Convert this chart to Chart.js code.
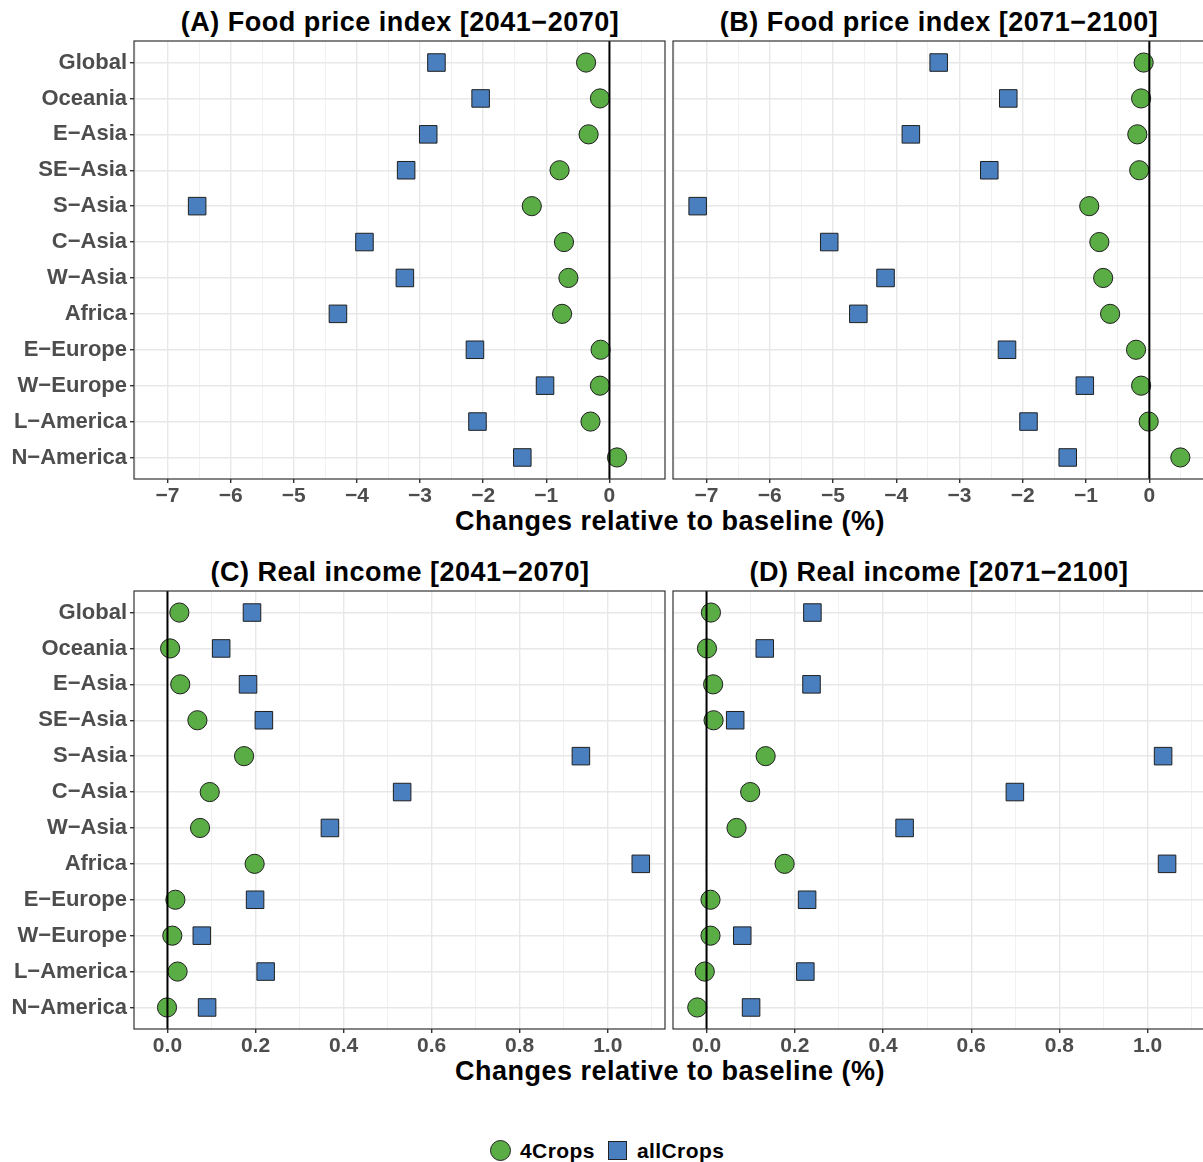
<!DOCTYPE html>
<html>
<head>
<meta charset="utf-8">
<title>Food price index and real income</title>
<script src="https://cdn.jsdelivr.net/npm/chart.js@4.4.1/dist/chart.umd.min.js"></script>
<style>
  body { margin: 0; background: #fff; overflow: hidden; font-family: "Liberation Sans", Arial, sans-serif; }
  #fig { position: relative; width: 1203px; height: 1162px; overflow: hidden; }
  canvas { position: absolute; }
  .ttl { position: absolute; font-weight: bold; font-size: 27px; line-height: 27px; color: #000;
         white-space: nowrap; letter-spacing: 0.5px; transform: translateX(-50%); }
  .leg { position: absolute; font-weight: bold; font-size: 21px; line-height: 21px; color: #000; letter-spacing: 0.4px; }
  .sym { position: absolute; border: 1px solid #222; box-sizing: border-box; }
</style>
</head>
<body>
<div id="fig">
  <div class="ttl" style="left:400px; top:9px;">(A) Food price index [2041−2070]</div>
  <div class="ttl" style="left:939px; top:9px;">(B) Food price index [2071−2100]</div>
  <div class="ttl" style="left:670px; top:508px;">Changes relative to baseline (%)</div>
  <div class="ttl" style="left:400px; top:559px;">(C) Real income [2041−2070]</div>
  <div class="ttl" style="left:939px; top:559px;">(D) Real income [2071−2100]</div>
  <div class="ttl" style="left:670px; top:1058px;">Changes relative to baseline (%)</div>

  <canvas id="chartA" width="670" height="480" style="left:0px; top:36px;"></canvas>
  <canvas id="chartB" width="540" height="480" style="left:668px; top:36px;"></canvas>
  <canvas id="chartC" width="670" height="480" style="left:0px; top:586px;"></canvas>
  <canvas id="chartD" width="540" height="480" style="left:668px; top:586px;"></canvas>

  <div class="sym" style="left:490px; top:1140px; width:21px; height:21px; border-radius:50%; background:#5aac44;"></div>
  <div class="leg" style="left:520px; top:1140px;">4Crops</div>
  <div class="sym" style="left:608px; top:1141px; width:19px; height:19px; background:#4a7fbf;"></div>
  <div class="leg" style="left:637px; top:1140px;">allCrops</div>
</div>

<script>
/*------------------
     Data
--------------------*/
const regions = ['Global', 'Oceania', 'E\u2212Asia', 'SE\u2212Asia', 'S\u2212Asia', 'C\u2212Asia',
                 'W\u2212Asia', 'Africa', 'E\u2212Europe', 'W\u2212Europe', 'L\u2212America', 'N\u2212America'];

// food price index, 2041-2070
const food4CropsMid   = [-0.37, -0.15, -0.33, -0.79, -1.23, -0.72, -0.65, -0.75, -0.14, -0.15, -0.30, 0.12];
const foodAllCropsMid = [-2.74, -2.04, -2.87, -3.22, -6.53, -3.88, -3.24, -4.30, -2.13, -1.02, -2.09, -1.38];
// food price index, 2071-2100
const food4CropsEnd   = [-0.09, -0.13, -0.19, -0.16, -0.95, -0.79, -0.73, -0.62, -0.21, -0.13, -0.01, 0.49];
const foodAllCropsEnd = [-3.33, -2.23, -3.77, -2.53, -7.14, -5.06, -4.17, -4.60, -2.25, -1.02, -1.91, -1.29];
// real income, 2041-2070
const inc4CropsMid   = [0.027, 0.006, 0.029, 0.068, 0.174, 0.096, 0.074, 0.198, 0.018, 0.011, 0.023, -0.001];
const incAllCropsMid = [0.192, 0.122, 0.183, 0.219, 0.939, 0.533, 0.369, 1.075, 0.199, 0.078, 0.223, 0.090];
// real income, 2071-2100
const inc4CropsEnd   = [0.010, 0.001, 0.015, 0.016, 0.134, 0.099, 0.068, 0.177, 0.009, 0.009, -0.004, -0.021];
const incAllCropsEnd = [0.240, 0.132, 0.238, 0.065, 1.035, 0.699, 0.449, 1.044, 0.228, 0.081, 0.224, 0.101];

// axis limits and ticks
const foodLimits   = [-7.53, 0.88];
const foodMajor    = [-7, -6, -5, -4, -3, -2, -1, 0];
const foodMinor    = [-7.5, -6.5, -5.5, -4.5, -3.5, -2.5, -1.5, -0.5, 0.5];
const incomeLimits = [-0.076, 1.13];
const incomeMajor  = [0, 0.2, 0.4, 0.6, 0.8, 1.0];
const incomeMinor  = [0.1, 0.3, 0.5, 0.7, 0.9, 1.1];

const green = '#5aac44';
const blue = '#4a7fbf';

/*------------------
     Plugins
--------------------*/
// zero line + panel border, drawn over the points like geom_vline / panel.border
const framePlugin = {
  id: 'frame',
  afterDatasetsDraw(chart) {
    const ctx = chart.ctx;
    const a = chart.chartArea;
    const x0 = chart.scales.x.getPixelForValue(0);
    ctx.save();
    ctx.strokeStyle = '#000';
    ctx.lineWidth = 2;
    ctx.beginPath();
    ctx.moveTo(x0, a.top);
    ctx.lineTo(x0, a.bottom);
    ctx.stroke();
    ctx.strokeStyle = '#333';
    ctx.lineWidth = 1.2;
    ctx.strokeRect(a.left, a.top, a.right - a.left, a.bottom - a.top);
    ctx.restore();
  }
};

function isIn(list, v) {
  return list.some(m => Math.abs(m - v) < 1e-6);
}

function toPoints(values) {
  return values.map((v, i) => ({ x: v, y: i }));
}

// no extra room for half labels at the ends of an axis
function noEdgePadding(ax) {
  ax.paddingLeft = 0;
  ax.paddingRight = 0;
  ax.paddingTop = 0;
  ax.paddingBottom = 0;
}

/*------------------
     Panels
--------------------*/
function makePanel(id, c4, all, limits, major, minor, fmt, showY) {
  const ticks = major.concat(minor).sort((a, b) => a - b);
  return new Chart(document.getElementById(id), {
    type: 'scatter',
    data: {
      datasets: [
        {
          label: 'allCrops',
          data: toPoints(all),
          pointStyle: 'rect',
          pointRadius: 12.4,
          backgroundColor: blue,
          borderColor: '#1f1f1f',
          borderWidth: 1
        },
        {
          label: '4Crops',
          data: toPoints(c4),
          pointStyle: 'circle',
          pointRadius: 9.6,
          backgroundColor: green,
          borderColor: '#1f1f1f',
          borderWidth: 1
        }
      ]
    },
    options: {
      responsive: false,
      animation: false,
      events: [],
      layout: {
        autoPadding: false,
        padding: { top: 5, right: showY ? 5 : 3, left: showY ? 0 : 5, bottom: 0 }
      },
      plugins: { legend: { display: false }, tooltip: { enabled: false } },
      scales: {
        x: {
          type: 'linear',
          min: limits[0],
          max: limits[1],
          afterBuildTicks: ax => { ax.ticks = ticks.map(v => ({ value: v })); },
          afterFit: ax => { ax.height = 37; noEdgePadding(ax); },
          ticks: {
            autoSkip: false,
            maxRotation: 0,
            padding: 1,
            color: '#4d4d4d',
            font: { family: 'Liberation Sans', size: 21, weight: 'bold' },
            callback: v => isIn(major, v) ? fmt(v) : ''
          },
          grid: {
            color: c => isIn(major, c.tick.value) ? '#e8e8e8' : '#f1f1f1',
            lineWidth: c => isIn(major, c.tick.value) ? 1.4 : 1,
            tickColor: c => isIn(major, c.tick.value) ? '#333' : 'rgba(0,0,0,0)',
            tickLength: 4
          },
          border: { display: false }
        },
        y: {
          type: 'linear',
          min: -0.6,
          max: regions.length - 0.4,
          reverse: true,
          afterBuildTicks: ax => { ax.ticks = regions.map((r, i) => ({ value: i })); },
          afterFit: ax => { ax.width = showY ? 134 : 0; noEdgePadding(ax); },
          ticks: {
            display: showY,
            autoSkip: false,
            padding: 3,
            color: '#4d4d4d',
            font: { family: 'Liberation Sans', size: 22, weight: 'bold' },
            callback: v => regions[v]
          },
          grid: {
            color: '#e8e8e8',
            lineWidth: 1.4,
            drawTicks: showY,
            tickColor: '#333',
            tickLength: 4
          },
          border: { display: false }
        }
      }
    },
    plugins: [framePlugin]
  });
}

const fmtFood = v => (v < 0 ? '\u2212' + Math.abs(v) : String(v));
const fmtIncome = v => v.toFixed(1);

makePanel('chartA', food4CropsMid, foodAllCropsMid, foodLimits, foodMajor, foodMinor, fmtFood, true);
makePanel('chartB', food4CropsEnd, foodAllCropsEnd, foodLimits, foodMajor, foodMinor, fmtFood, false);
makePanel('chartC', inc4CropsMid, incAllCropsMid, incomeLimits, incomeMajor, incomeMinor, fmtIncome, true);
makePanel('chartD', inc4CropsEnd, incAllCropsEnd, incomeLimits, incomeMajor, incomeMinor, fmtIncome, false);
</script>
</body>
</html>
